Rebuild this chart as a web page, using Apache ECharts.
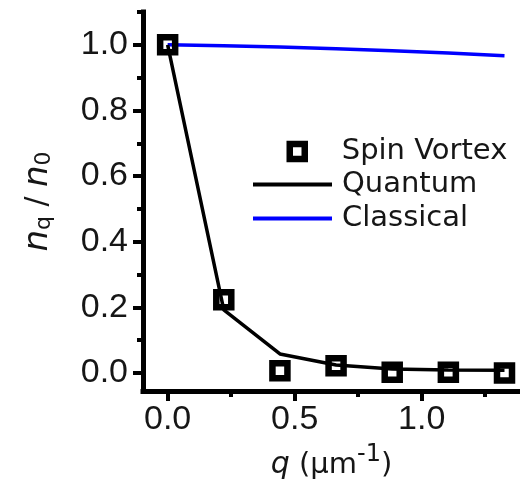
<!DOCTYPE html>
<html>
<head>
<meta charset="utf-8">
<script src="https://cdn.jsdelivr.net/npm/echarts@6/dist/echarts.min.js"></script>
<style>
  html, body { margin: 0; padding: 0; background: #fff; }
  #chart { width: 520px; height: 487px; }
</style>
</head>
<body>
<div id="chart"></div>
<script>
// Wave vector q (µm^-1) sampled for each spin-vortex measurement
const qValues = [0, 0.221, 0.442, 0.663, 0.884, 1.105, 1.326];
// Measured spin-vortex density ratio n_q / n_0
const spinVortex = [1.0, 0.223, 0.007, 0.022, 0.002, 0.002, 0.0];
// Quantum model prediction
const quantum = [1.0, 0.192, 0.058, 0.024, 0.012, 0.009, 0.008];
// Classical model prediction
const classical = [1.0, 0.997, 0.993, 0.988, 0.982, 0.975, 0.967];

// Axis ticks
const xMajorTicks = [0, 0.5, 1.0];
const xMinorTicks = [0.25, 0.75, 1.25];
const yMajorTicks = [0, 0.2, 0.4, 0.6, 0.8, 1.0];
const yMinorTicks = [0.1, 0.3, 0.5, 0.7, 0.9, 1.1];

const pairs = (ys) => qValues.map((q, i) => [q, ys[i]]);

const TICK_FONT = 'Liberation Sans';
const FONT = 'DejaVu Sans';
const INK = '#161616';

const chart = echarts.init(document.getElementById('chart'), null, { renderer: 'canvas' });

const axisLine = { show: true, onZero: false, lineStyle: { color: '#000', width: 5, cap: 'square' } };
const legendText = { fontFamily: FONT, fontSize: 29, color: INK };

chart.setOption({
  animation: false,
  backgroundColor: '#fff',
  grid: { left: 143, top: 12, width: 377, height: 379, containLabel: false, outerBoundsMode: 'none' },
  legend: [
    {
      data: [{ name: 'Spin Vortex', icon: 'rect' }],
      left: 286.5, top: 137, padding: 0,
      itemWidth: 15, itemHeight: 15,
      selectedMode: false,
      itemStyle: { color: 'rgba(0,0,0,0)', borderColor: '#000', borderWidth: 6.5 },
      textStyle: Object.assign({ padding: [0, 0, 0, 32] }, legendText)
    },
    {
      data: [{ name: 'Quantum', icon: 'rect' }],
      left: 253, top: 170, padding: 0,
      itemWidth: 79, itemHeight: 4,
      selectedMode: false,
      itemStyle: { color: '#000', borderWidth: 0 },
      textStyle: Object.assign({ padding: [0, 0, 0, 5] }, legendText)
    },
    {
      data: [{ name: 'Classical', icon: 'rect' }],
      left: 253, top: 204, padding: 0,
      itemWidth: 79, itemHeight: 4,
      selectedMode: false,
      itemStyle: { color: '#0000ff', borderWidth: 0 },
      textStyle: Object.assign({ padding: [0, 0, 0, 5] }, legendText)
    }
  ],
  xAxis: [
    {
      type: 'value', position: 'bottom', min: -0.097, max: 1.387,
      axisLine: axisLine,
      axisTick: { show: true, customValues: xMajorTicks, length: 10, lineStyle: { color: '#000', width: 4 } },
      axisLabel: {
        customValues: xMajorTicks, margin: 12,
        fontFamily: TICK_FONT, fontSize: 34, color: INK,
        formatter: (v) => v.toFixed(1)
      },
      splitLine: { show: false },
      name: '{i|q}{t| (μm}{sup|-1}{t|)}',
      nameLocation: 'middle',
      nameGap: 52,
      nameTextStyle: {
        fontFamily: FONT, fontSize: 29, color: INK, lineHeight: 44,
        rich: {
          i: { fontFamily: FONT, fontSize: 30, fontStyle: 'italic', color: INK, lineHeight: 44 },
          t: { fontFamily: FONT, fontSize: 29, color: INK, lineHeight: 44 },
          sup: { fontFamily: FONT, fontSize: 24, color: INK, verticalAlign: 'top', lineHeight: 22 }
        }
      }
    },
    {
      type: 'value', position: 'bottom', min: -0.097, max: 1.387,
      axisLine: { show: false, onZero: false },
      axisTick: { show: true, customValues: xMinorTicks, length: 6, lineStyle: { color: '#000', width: 4 } },
      axisLabel: { show: false },
      splitLine: { show: false }
    }
  ],
  yAxis: [
    {
      type: 'value', position: 'left', min: -0.055, max: 1.1,
      axisLine: axisLine,
      axisTick: { show: true, customValues: yMajorTicks, length: 10, lineStyle: { color: '#000', width: 4 } },
      axisLabel: {
        customValues: yMajorTicks, margin: 15,
        fontFamily: TICK_FONT, fontSize: 34, color: INK,
        formatter: (v) => v.toFixed(1)
      },
      splitLine: { show: false },
      name: '{i|n}{sub|q} / {i|n}{sub|0}',
      nameLocation: 'middle',
      nameRotate: 90,
      nameGap: 88,
      nameTextStyle: {
        fontFamily: FONT, fontSize: 30, color: INK,
        rich: {
          i: { fontFamily: FONT, fontSize: 34, fontStyle: 'italic', color: INK },
          sub: { fontFamily: FONT, fontSize: 22, color: INK, verticalAlign: 'bottom', lineHeight: 20 }
        }
      }
    },
    {
      type: 'value', position: 'left', min: -0.055, max: 1.1,
      axisLine: { show: false, onZero: false },
      axisTick: { show: true, customValues: yMinorTicks, length: 6, lineStyle: { color: '#000', width: 4 } },
      axisLabel: { show: false },
      splitLine: { show: false }
    }
  ],
  series: [
    {
      name: 'Classical', type: 'line', data: pairs(classical),
      showSymbol: false, symbol: 'none',
      lineStyle: { color: '#0000ff', width: 3.5 },
      itemStyle: { color: '#0000ff' },
      z: 2
    },
    {
      name: 'Quantum', type: 'line', data: pairs(quantum),
      showSymbol: false, symbol: 'none',
      lineStyle: { color: '#000', width: 3.5 },
      itemStyle: { color: '#000' },
      z: 2
    },
    {
      name: 'Spin Vortex', type: 'scatter', data: pairs(spinVortex),
      symbol: 'rect', symbolSize: 15,
      itemStyle: { color: 'rgba(0,0,0,0)', borderColor: '#000', borderWidth: 6.5, opacity: 1 },
      z: 3
    }
  ]
});
</script>
</body>
</html>
